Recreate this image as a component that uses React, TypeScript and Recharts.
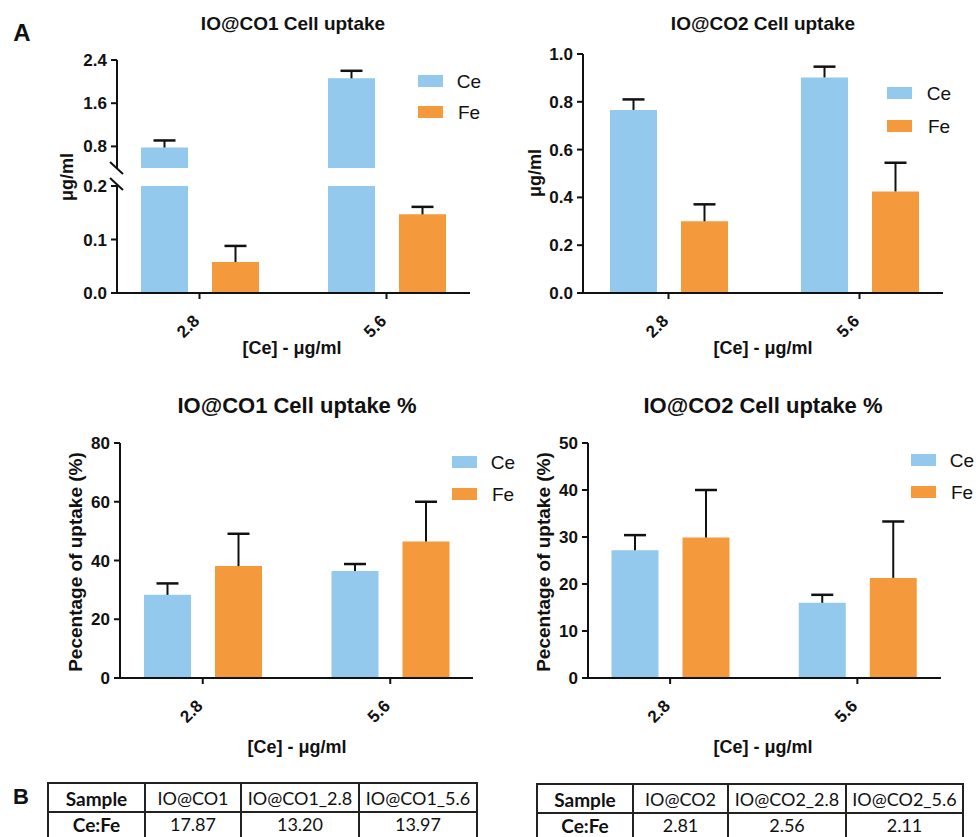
import { BarChart, Bar, XAxis, YAxis } from "recharts";

const categories = ["2.8", "5.6"];

// IO@CO1 uptake (µg/ml), broken axis
const co1Ce = [0.78, 2.06];
const co1CeErr = [0.13, 0.14];
const co1Fe = [0.058, 0.147];
const co1FeErr = [0.03, 0.014];

// IO@CO2 uptake (µg/ml)
const co2Ce = [0.766, 0.902];
const co2CeErr = [0.044, 0.045];
const co2Fe = [0.3, 0.425];
const co2FeErr = [0.071, 0.12];

// uptake %
const pct1Ce = [28.3, 36.4];
const pct1CeErr = [3.9, 2.4];
const pct1Fe = [38.1, 46.5];
const pct1FeErr = [11.0, 13.5];

const pct2Ce = [27.2, 16.0];
const pct2CeErr = [3.2, 1.7];
const pct2Fe = [29.9, 21.3];
const pct2FeErr = [10.1, 12.0];

const tableHead1 = ["Sample", "IO@CO1", "IO@CO1_2.8", "IO@CO1_5.6"];
const tableRow1 = ["Ce:Fe", "17.87", "13.20", "13.97"];
const tableHead2 = ["Sample", "IO@CO2", "IO@CO2_2.8", "IO@CO2_5.6"];
const tableRow2 = ["Ce:Fe", "2.81", "2.56", "2.11"];

const BLUE = "#92C9EC";
const ORANGE = "#F49A3C";
const FONT = '"Liberation Sans", Arial, sans-serif';

const build = (ce, ceErr, fe, feErr) =>
  categories.map((cat, i) => ({ cat, ce: ce[i], ceErr: ceErr[i], fe: fe[i], feErr: feErr[i] }));

// one-sided error bar: stem from bar top, cap on top only
const ErrCap = (props) => {
  const { x, y, width, height } = props;
  if (x == null || y == null || !isFinite(height) || height < 1) return null;
  const cx = x + width / 2;
  return (
    <g>
      <line x1={cx} x2={cx} y1={y + height} y2={y} stroke="#111" strokeWidth={2} />
      <line x1={cx - 11} x2={cx + 11} y1={y} y2={y} stroke="#111" strokeWidth={2.5} />
    </g>
  );
};

const XTick = ({ x, y, payload }) => (
  <text
    transform={`translate(${x + 1},${y + 21}) rotate(-45)`}
    textAnchor="end"
    fontFamily={FONT}
    fontWeight={700}
    fontSize={17}
    fill="#111"
  >
    {payload.value}
  </text>
);

const WY = 70;
const MT = 12;
const MR = 20;
const HX = 60;

function Panel({ data, plot, pad, domain, ticks, fmt, hideX = false }) {
  const [x0, y0, x1, y1] = plot;
  const hx = hideX ? 0 : HX;
  const width = x1 - x0 + WY + MR;
  const height = y1 - y0 + MT + hx;
  return (
    <div style={{ position: "absolute", left: x0 - WY, top: y0 - MT }}>
      <BarChart
        width={width}
        height={height}
        data={data}
        margin={{ top: MT, right: MR, left: 0, bottom: 0 }}
        barSize={47}
        barGap={24}
      >
        <XAxis
          dataKey="cat"
          hide={hideX}
          height={hx}
          padding={{ left: pad[0], right: pad[1] }}
          axisLine={{ stroke: "#111", strokeWidth: 2 }}
          tickLine={{ stroke: "#111", strokeWidth: 2 }}
          tickSize={6}
          tick={<XTick />}
          interval={0}
        />
        <YAxis
          width={WY}
          domain={domain}
          ticks={ticks}
          interval={0}
          allowDataOverflow
          tickFormatter={fmt}
          axisLine={{ stroke: "#111", strokeWidth: 2 }}
          tickLine={{ stroke: "#111", strokeWidth: 2 }}
          tickSize={6}
          tickMargin={4}
          tick={{ fill: "#111", fontSize: 17, fontWeight: 700, fontFamily: FONT }}
        />
        <Bar dataKey="ce" stackId="ce" fill={BLUE} isAnimationActive={false} />
        <Bar dataKey="ceErr" stackId="ce" shape={<ErrCap />} isAnimationActive={false} />
        <Bar dataKey="fe" stackId="fe" fill={ORANGE} isAnimationActive={false} />
        <Bar dataKey="feErr" stackId="fe" shape={<ErrCap />} isAnimationActive={false} />
      </BarChart>
    </div>
  );
}

const centered = (x, y, size, text, extra = {}) => (
  <div
    style={{
      position: "absolute",
      left: x,
      top: y,
      transform: `translate(-50%, -50%) ${extra.rotate ? "rotate(-90deg)" : ""}`,
      whiteSpace: "nowrap",
      fontFamily: extra.font ?? FONT,
      fontWeight: extra.weight ?? 700,
      fontSize: size,
      color: "#111",
      lineHeight: 1,
    }}
  >
    {text}
  </div>
);

function LegendBox({ x, ceTop, feTop, textX }) {
  const item = (top, color, label) => (
    <>
      <div style={{ position: "absolute", left: x, top, width: 25, height: 12, background: color }} />
      {centered(textX + 12, top + 6, 19, label, { weight: 400 })}
    </>
  );
  return (
    <>
      {item(ceTop, BLUE, "Ce")}
      {item(feTop, ORANGE, "Fe")}
    </>
  );
}

// two-row ratio table, cut at the bottom edge like the figure
function RatioTable({ left, top, widths, head, row }) {
  const edges = widths.reduce((acc, w) => [...acc, acc[acc.length - 1] + w], [0]);
  const total = edges[edges.length - 1];
  const rowH = [29, 25];
  const line = { position: "absolute", background: "#222" };
  const text = (txt, i, r) =>
    centered(
      left + (edges[i] + edges[i + 1]) / 2,
      top + (r === 0 ? rowH[0] / 2 + 1 : rowH[0] + rowH[1] / 2),
      i === 0 ? 19 : 18,
      txt,
      { weight: i === 0 ? 700 : 400, font: "Lato, 'Open Sans', sans-serif" }
    );
  return (
    <>
      <div style={{ ...line, left, top, width: total, height: 2 }} />
      <div style={{ ...line, left, top: top + rowH[0], width: total, height: 2 }} />
      {edges.map((e, i) => (
        <div key={i} style={{ ...line, left: left + e - 1, top, width: 2, height: rowH[0] + rowH[1] + 10 }} />
      ))}
      {head.map((t, i) => <span key={"h" + i}>{text(t, i, 0)}</span>)}
      {row.map((t, i) => <span key={"r" + i}>{text(t, i, 1)}</span>)}
    </>
  );
}

export default function App() {
  const d1 = build(co1Ce, co1CeErr, co1Fe, co1FeErr);
  const d2 = build(co2Ce, co2CeErr, co2Fe, co2FeErr);
  const d3 = build(pct1Ce, pct1CeErr, pct1Fe, pct1FeErr);
  const d4 = build(pct2Ce, pct2CeErr, pct2Fe, pct2FeErr);
  const one = (v) => v.toFixed(1);
  return (
    <div
      style={{
        position: "absolute",
        left: 0,
        top: 0,
        width: 976,
        height: 837,
        background: "#fff",
        overflow: "hidden",
      }}
    >
      {centered(22, 33, 24, "A")}
      {centered(21, 797, 22, "B")}

      {/* IO@CO1 Cell uptake, broken y axis */}
      {centered(293, 23, 19, "IO@CO1 Cell uptake")}
      <Panel data={d1} plot={[117, 60, 470, 168]} pad={[-11, -10]} domain={[0.4, 2.4]} ticks={[0.8, 1.6, 2.4]} fmt={one} hideX />
      <Panel data={d1} plot={[117, 186, 470, 293]} pad={[-11, -10]} domain={[0, 0.2]} ticks={[0, 0.1, 0.2]} fmt={one} />
      <svg style={{ position: "absolute", left: 0, top: 0 }} width={976} height={837} pointerEvents="none">
        <line x1={110} y1={162} x2={123} y2={174} stroke="#111" strokeWidth={2} />
        <line x1={110} y1={178} x2={123} y2={190} stroke="#111" strokeWidth={2} />
      </svg>
      {centered(67, 177, 18, "μg/ml", { rotate: true })}
      {centered(292, 348, 18, "[Ce] - μg/ml")}
      <LegendBox x={418} ceTop={75} feTop={106} textX={457} />

      {/* IO@CO2 Cell uptake */}
      {centered(763, 23, 19, "IO@CO2 Cell uptake")}
      <Panel data={d2} plot={[583, 54, 943, 293]} pad={[-10, -12]} domain={[0, 1]} ticks={[0, 0.2, 0.4, 0.6, 0.8, 1.0]} fmt={one} />
      {centered(535, 173, 18, "μg/ml", { rotate: true })}
      {centered(763, 348, 18, "[Ce] - μg/ml")}
      <LegendBox x={887} ceTop={87} feTop={120} textX={927} />

      {/* IO@CO1 Cell uptake % */}
      {centered(297, 406, 22, "IO@CO1 Cell uptake %")}
      <Panel data={d3} plot={[120, 443, 473, 678]} pad={[-11, -11]} domain={[0, 80]} ticks={[0, 20, 40, 60, 80]} />
      {centered(75, 562, 19, "Pecentage of uptake (%)", { rotate: true })}
      {centered(297, 747, 18, "[Ce] - μg/ml")}
      <LegendBox x={452} ceTop={456} feTop={488} textX={491} />

      {/* IO@CO2 Cell uptake % */}
      {centered(763, 406, 22, "IO@CO2 Cell uptake %")}
      <Panel data={d4} plot={[588, 443, 941, 678]} pad={[-11.5, -10]} domain={[0, 50]} ticks={[0, 10, 20, 30, 40, 50]} />
      {centered(543, 562, 19, "Pecentage of uptake (%)", { rotate: true })}
      {centered(763, 747, 18, "[Ce] - μg/ml")}
      <LegendBox x={911} ceTop={454} feTop={486} textX={950} />

      <RatioTable left={48} top={782} widths={[97, 96, 118, 118]} head={tableHead1} row={tableRow1} />
      <RatioTable left={537} top={783} widths={[96, 95, 118, 117]} head={tableHead2} row={tableRow2} />
    </div>
  );
}
